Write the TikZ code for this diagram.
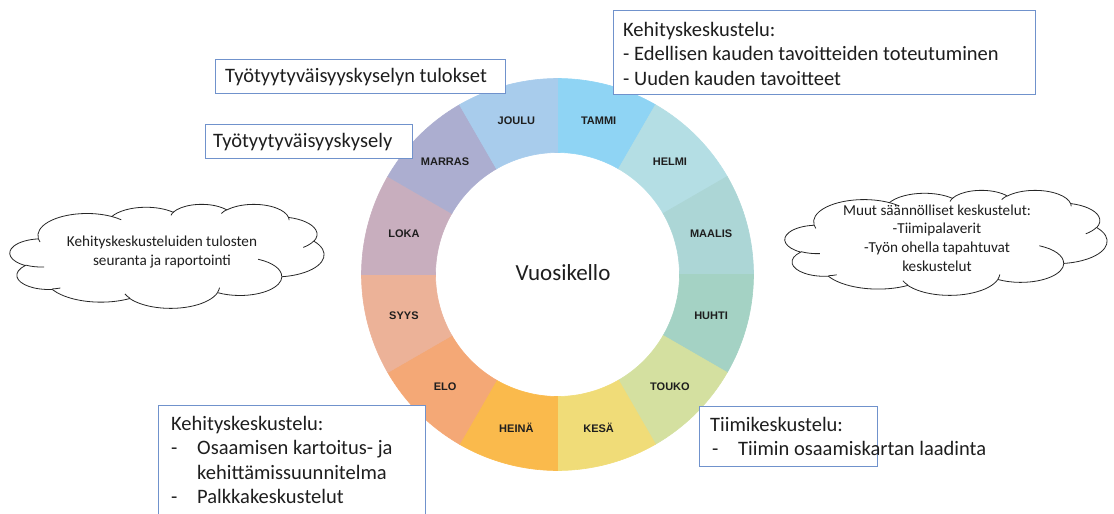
\documentclass[tikz,border=0pt]{standalone}
\usepackage{fontspec}
\setmainfont{Carlito}
\newfontfamily\monthfamily{Liberation Sans}
\usetikzlibrary{calc}
\definecolor{cTammi}{HTML}{8FD4F4}
\definecolor{cHelmi}{HTML}{B4DEE4}
\definecolor{cMaalis}{HTML}{ACD6D6}
\definecolor{cHuhti}{HTML}{A4D2C4}
\definecolor{cTouko}{HTML}{D4E0A0}
\definecolor{cKesa}{HTML}{F0DC78}
\definecolor{cHeina}{HTML}{FABA4C}
\definecolor{cElo}{HTML}{F4A876}
\definecolor{cSyys}{HTML}{ECB298}
\definecolor{cLoka}{HTML}{C8AEBE}
\definecolor{cMarras}{HTML}{ACAED0}
\definecolor{cJoulu}{HTML}{A8CCEC}
\definecolor{boxblue}{HTML}{7092CC}
\definecolor{ink}{HTML}{1E1E1E}
\tikzset{
  frame/.style={draw=boxblue, line width=1.1pt, fill=white, anchor=north west, inner sep=0pt, rectangle},
  boxtext/.style={anchor=north west, inner sep=0pt, align=left, text=ink, font=\fontsize{20.5}{24.5}\selectfont},
  month/.style={font=\monthfamily\bfseries\fontsize{11}{12}\selectfont, text=ink},
  cloudline/.style={draw=black!85, line width=0.8pt},
  cloudtext/.style={align=center, text=ink, inner sep=0pt, font=\fontsize{15.2}{18.8}\selectfont},
}
% convert an Office arcTo (visual angles) into a parametric TikZ arc
\newcommand\ooconv[5]{%
  \pgfmathparse{atan2(#2*sin(#4), #3*cos(#4))}\let\ooTa\pgfmathresult
  \pgfmathparse{atan2(#2*sin(#4+#5), #3*cos(#4+#5))}\let\ooTb\pgfmathresult
  \pgfmathparse{mod(\ooTb-\ooTa+720,360)}\let\ooTd\pgfmathresult
  \expandafter\xdef\csname oo#1s\endcsname{\ooTa}%
  \expandafter\xdef\csname oo#1d\endcsname{\ooTd}%
  \expandafter\xdef\csname oo#1x\endcsname{#2}%
  \expandafter\xdef\csname oo#1y\endcsname{#3}%
}
\newcommand\ooarc[1]{arc[x radius=\csname oo#1x\endcsname, y radius=\csname oo#1y\endcsname, start angle=\csname oo#1s\endcsname, delta angle=\csname oo#1d\endcsname]}
\newcommand\mscloud[4]{%
\begin{scope}[shift={(#1,-#2)}, xscale=#3/432, yscale=-#4/432]
  \draw[cloudline, fill=white] (39.00,143.70) \ooarc{1} \ooarc{2} \ooarc{3} \ooarc{4} \ooarc{5} \ooarc{6}
     \ooarc{7} \ooarc{8} \ooarc{9} \ooarc{10} \ooarc{11} -- cycle;
  \draw[cloudline] (46.93,261.77) \ooarc{a} (69.28,348.99) \ooarc{b} (164.78,390.90) \ooarc{c}
     (288.27,347.51) \ooarc{d} (341.29,229.54) \ooarc{e} (417.98,153.54) \ooarc{f}
     (383.24,54.26) \ooarc{g} (290.78,39.52) \ooarc{h} (221.41,47.20) \ooarc{i}
     (140.00,51.92) \ooarc{j} (41.27,157.89) \ooarc{k};
\end{scope}}
\begin{document}
\begin{tikzpicture}[x=1pt,y=1pt]
\ooconv{1}{67.53}{91.90}{-190.4875}{123.7805}
\ooconv{2}{53.33}{72.67}{-144.1024}{89.9452}
\ooconv{3}{43.65}{59.45}{-145.8079}{99.7230}
\ooconv{4}{48.57}{65.95}{-130.9861}{117.2417}
\ooconv{5}{53.33}{72.73}{-78.7089}{109.0269}
\ooconv{6}{67.75}{92.20}{-46.2673}{130.2690}
\ooconv{7}{57.85}{78.67}{0.6250}{114.0333}
\ooconv{8}{67.52}{92.15}{22.4516}{115.1726}
\ooconv{9}{77.20}{105.43}{66.2426}{75.7110}
\ooconv{10}{43.60}{59.18}{-274.9421}{146.7356}
\ooconv{11}{43.45}{59.45}{-246.8285}{152.5189}
\ooconv{a}{43.45}{59.45}{86.742}{26.4295}
\ooconv{b}{43.60}{59.18}{73.6105}{11.4475}
\ooconv{c}{67.52}{92.15}{137.6242}{14.0811}
\ooconv{d}{67.52}{92.15}{6.4533}{15.9984}
\ooconv{e}{57.85}{78.67}{-70.2924}{70.9174}
\ooconv{f}{53.33}{72.73}{30.3180}{27.7515}
\ooconv{g}{48.57}{65.95}{-13.7443}{14.8589}
\ooconv{h}{48.57}{65.95}{-149.1815}{18.1954}
\ooconv{i}{43.65}{59.45}{-163.4943}{19.0138}
\ooconv{j}{67.53}{91.90}{-66.7070}{12.3194}
\ooconv{k}{67.53}{91.90}{157.6544}{11.8582}
\useasboundingbox (0,0) rectangle (1114,-514);
\coordinate (C) at (557.5,-274.5);
\foreach \i/\name/\col in {0/TAMMI/cTammi,1/HELMI/cHelmi,2/MAALIS/cMaalis,3/HUHTI/cHuhti,4/TOUKO/cTouko,5/KESÄ/cKesa,6/HEINÄ/cHeina,7/ELO/cElo,8/SYYS/cSyys,9/LOKA/cLoka,10/MARRAS/cMarras,11/JOULU/cJoulu}{
  \pgfmathsetmacro\aa{90-30*\i}
  \pgfmathsetmacro\ab{60-30*\i}
  \pgfmathsetmacro\am{75-30*\i}
  \fill[\col, draw=\col, line width=0.6pt] ($(C)+(\aa:196)$) arc[start angle=\aa, end angle=\ab, radius=196pt]
     -- ($(C)+(\ab:122)$) arc[start angle=\ab, end angle=\aa, radius=122pt] -- cycle;
  \node[month] (m\i) at ($(C)+(\am:159)$) {\name};
}
\node[text=ink, inner sep=0pt, font=\fontsize{23}{27}\selectfont] (title) at (563,-273) {Vuosikello};

% boxes
\node[frame, minimum width=290pt, minimum height=34pt] (fTulokset) at (215,-59) {};
\node[boxtext, anchor=west] (tTulokset) at ($(fTulokset.west)+(10,0)$) {Työtyytyväisyyskyselyn tulokset};

\node[frame, minimum width=207pt, minimum height=34pt] (fKysely) at (205,-124) {};
\node[boxtext, anchor=west] (tKysely) at ($(fKysely.west)+(8,0)$) {Työtyytyväisyyskysely};

\node[frame, minimum width=422pt, minimum height=84pt] (fTop) at (613,-10) {};
\node[boxtext] (tTop) at ($(fTop.north west)+(10,-12)$) {Kehityskeskustelu:\\- Edellisen kauden tavoitteiden toteutuminen\\- Uuden kauden tavoitteet};

\node[frame, minimum width=267pt, minimum height=140pt] (fBL) at (158,-405) {};
\node[boxtext] (tBL) at ($(fBL.north west)+(13,-11)$) {Kehityskeskustelu:\\\makebox[26pt][l]{-}Osaamisen kartoitus- ja\\\hspace*{26pt}kehittämissuunnitelma\\\makebox[26pt][l]{-}Palkkakeskustelut};

\node[frame, minimum width=178pt, minimum height=60pt] (fBR) at (699,-406) {};
\node[boxtext] (tBR) at ($(fBR.north west)+(11,-11)$) {Tiimikeskustelu:\\\makebox[28pt][l]{\hspace*{2pt}-}Tiimin osaamiskartan laadinta};

% clouds
\mscloud{10}{204}{314}{104}
\node[cloudtext] (tL) at (162,-252) {Kehityskeskusteluiden tulosten\\seuranta ja raportointi};

\mscloud{785}{190}{322}{105}
\node[cloudtext] (tR) at (937,-238) {Muut säännölliset keskustelut:\\-Tiimipalaverit\\-Työn ohella tapahtuvat\\keskustelut};
\end{tikzpicture}
\end{document}
